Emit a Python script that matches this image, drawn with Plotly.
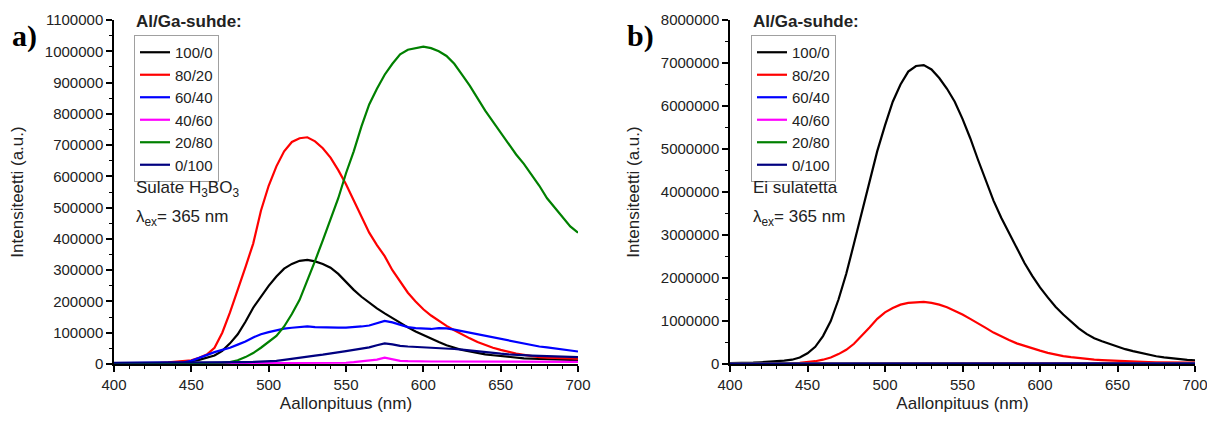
import plotly.graph_objects as go

# Reference image is 1215x421; the page body adds an 8 px margin, so the figure is
# made smaller and all layout positions are shifted by 8 px.
REF_W, REF_H = 1215, 421
OFF = 8
W, H = REF_W - OFF, REF_H - 2 * OFF

# ---------------- data ----------------
wl = list(range(400, 701, 5))
labels = ["100/0", "80/20", "60/40", "40/60", "20/80", "0/100"]
colors = ["#000000", "#ff0000", "#0000ff", "#ff00ff", "#008000", "#000080"]

# Panel a) fused with H3BO3
a_100_0 = [2000, 2000, 2000, 2500, 3000, 3000, 3500, 4000, 5000, 6000, 9000, 13000, 19000, 27000, 42000,
           66000, 95000, 135000, 180000, 215000, 250000, 280000, 305000, 320000, 330000, 333000, 328000,
           320000, 308000, 288000, 262000, 237000, 215000, 195000, 178000, 162000, 147000, 130000, 117000,
           104000, 92000, 80000, 70000, 60000, 52000, 45000, 40000, 35000, 31000, 28000, 25000, 22000,
           20000, 18000, 17000, 16000, 15000, 14000, 13000, 12000, 12000]
a_80_20 = [2000, 2000, 2000, 2000, 3000, 3000, 4000, 5000, 7000, 9000, 12000, 20000, 30000, 52000, 100000,
           165000, 235000, 310000, 385000, 490000, 570000, 632000, 680000, 710000, 722000, 725000, 712000,
           690000, 660000, 620000, 575000, 525000, 470000, 420000, 380000, 345000, 300000, 262000, 228000,
           200000, 175000, 155000, 138000, 122000, 108000, 94000, 82000, 70000, 60000, 52000, 45000, 38000,
           33000, 29000, 25000, 22000, 20000, 19000, 18000, 17000, 17000]
a_60_40 = [3000, 3000, 3000, 3000, 3000, 3000, 3000, 3500, 4000, 5000, 10000, 20000, 30000, 38000, 45000,
           52000, 62000, 72000, 85000, 95000, 102000, 108000, 113000, 116000, 118000, 120000, 118000, 117000,
           115000, 116000, 116000, 117000, 120000, 123000, 130000, 138000, 133000, 125000, 118000, 115000,
           113000, 112000, 115000, 114000, 110000, 105000, 100000, 95000, 90000, 85000, 80000, 75000, 70000,
           65000, 60000, 56000, 53000, 50000, 45000, 42000, 40000]
a_40_60 = [2000, 2000, 2000, 2000, 2000, 2000, 2000, 2000, 2000, 2000, 2000, 2000, 2000, 2000, 2000,
           2000, 2000, 2000, 2000, 2000, 2500, 2500, 2500, 2500, 2500, 3000, 3000, 3000, 3000, 3000, 4000,
           6000, 8000, 10000, 14000, 20000, 15000, 10000, 9000, 8000, 8000, 8000, 8000, 8000, 8000, 8000,
           8000, 8000, 7500, 7500, 7500, 7500, 7000, 7000, 7000, 7000, 7000, 7000, 7000, 7000, 7000]
a_20_80 = [2000, 2000, 2000, 2000, 2000, 2000, 2000, 2000, 2000, 2000, 2500, 2500, 3000, 3000, 4000,
           6000, 12000, 22000, 35000, 52000, 70000, 90000, 120000, 160000, 205000, 265000, 330000, 395000,
           460000, 530000, 610000, 680000, 760000, 830000, 880000, 925000, 960000, 990000, 1005000, 1010000,
           1015000, 1010000, 1000000, 985000, 960000, 925000, 890000, 850000, 810000, 775000, 740000, 705000,
           670000, 640000, 605000, 570000, 530000, 500000, 470000, 440000, 420000]
a_0_100 = [4000, 4000, 4000, 4000, 4000, 4000, 4500, 4500, 4500, 5000, 5000, 5000, 5000, 5500, 5500,
           6000, 6000, 6000, 6500, 7000, 8000, 10000, 13000, 17000, 21000, 24000, 27000, 30000, 33000, 37000,
           41000, 45000, 49000, 53000, 60000, 66000, 63000, 58000, 56000, 55000, 54000, 53000, 51000, 50000,
           48000, 46000, 43000, 41000, 39000, 36000, 33000, 31000, 29000, 28000, 27000, 26000, 25000, 24000,
           23000, 23000, 22000]

# Panel b) not fused
b_100_0 = [20000, 20000, 25000, 30000, 40000, 50000, 60000, 80000, 100000, 150000, 250000, 400000, 650000,
           1000000, 1500000, 2100000, 2800000, 3500000, 4250000, 4950000, 5550000, 6100000, 6500000, 6800000,
           6930000, 6950000, 6850000, 6650000, 6400000, 6100000, 5700000, 5250000, 4750000, 4250000, 3800000,
           3400000, 3050000, 2700000, 2350000, 2050000, 1780000, 1550000, 1330000, 1150000, 980000, 830000,
           700000, 600000, 530000, 465000, 400000, 345000, 300000, 255000, 215000, 180000, 155000, 130000,
           110000, 95000, 85000]
b_80_20 = [5000, 5000, 5000, 6000, 7000, 8000, 9000, 11000, 15000, 25000, 40000, 65000, 100000, 150000,
           230000, 330000, 470000, 650000, 850000, 1050000, 1200000, 1300000, 1380000, 1420000, 1440000,
           1445000, 1420000, 1380000, 1320000, 1240000, 1150000, 1050000, 950000, 840000, 730000, 640000,
           560000, 480000, 420000, 360000, 310000, 260000, 220000, 185000, 160000, 135000, 115000, 100000,
           90000, 80000, 70000, 62000, 55000, 50000, 45000, 40000, 38000, 35000, 33000, 30000, 30000]
wl_flat = [400, 450, 500, 525, 550, 600, 650, 700]
b_60_40 = [10000, 12000, 20000, 25000, 22000, 18000, 15000, 14000]
b_40_60 = [10000, 12000, 25000, 30000, 28000, 20000, 15000, 14000]
b_20_80 = [8000, 9000, 12000, 15000, 15000, 14000, 12000, 10000]
b_0_100 = [6000, 7000, 9000, 10000, 10000, 9000, 8000, 7000]

x_ticks = [400, 450, 500, 550, 600, 650, 700]

# ---------------- figure ----------------
FONT = "Liberation Sans, Arial, sans-serif"


def px_x(p):
    return (p - OFF) / W


def px_y(p):
    return 1 - (p - OFF) / H


fig = go.Figure()

series_a = [a_100_0, a_80_20, a_60_40, a_40_60, a_20_80, a_0_100]
for lab, col, ys in zip(labels, colors, series_a):
    fig.add_trace(go.Scatter(x=wl, y=ys, name=lab, mode="lines",
                             line=dict(color=col, width=2.2),
                             xaxis="x", yaxis="y", legend="legend"))

series_b = [(wl, b_100_0), (wl, b_80_20), (wl_flat, b_60_40), (wl_flat, b_40_60),
            (wl_flat, b_20_80), (wl_flat, b_0_100)]
for lab, col, (xs, ys) in zip(labels, colors, series_b):
    fig.add_trace(go.Scatter(x=xs, y=ys, name=lab, mode="lines",
                             line=dict(color=col, width=2.2),
                             xaxis="x2", yaxis="y2", legend="legend2"))

axis_common = dict(showline=True, linecolor="black", linewidth=1.5,
                   ticks="outside", ticklen=6, tickwidth=1.5, tickcolor="black",
                   showgrid=False, zeroline=False, automargin=False,
                   ticklabeloverflow="allow",
                   tickfont=dict(family=FONT, size=15, color="#222"))

ydom = [px_y(364), px_y(20)]
title_font = dict(family=FONT, size=17, color="#222")

fig.update_layout(
    width=W, height=H,
    margin=dict(l=0, r=0, t=0, b=0, autoexpand=False),
    paper_bgcolor="white", plot_bgcolor="white",
    showlegend=True,
    xaxis=dict(domain=[px_x(114), px_x(578)], range=[400, 700], tickvals=x_ticks,
               minor=dict(ticks="outside", ticklen=3, dtick=10, tickcolor="black", tickwidth=1.2),
               title=dict(text="Aallonpituus (nm)", font=title_font, standoff=11),
               anchor="y", **axis_common),
    yaxis=dict(domain=ydom, range=[0, 1100000], dtick=100000, tickformat="d",
               minor=dict(ticks="outside", ticklen=3, dtick=50000, tickcolor="black", tickwidth=1.2),
               title=dict(text="Intensiteetti (a.u.)", font=title_font, standoff=17),
               anchor="x", **axis_common),
    xaxis2=dict(domain=[px_x(730), px_x(1195)], range=[400, 700], tickvals=x_ticks,
                minor=dict(ticks="outside", ticklen=3, dtick=10, tickcolor="black", tickwidth=1.2),
                title=dict(text="Aallonpituus (nm)", font=title_font, standoff=11),
                anchor="y2", **axis_common),
    yaxis2=dict(domain=ydom, range=[0, 8000000], dtick=1000000, tickformat="d",
                minor=dict(ticks="outside", ticklen=3, dtick=500000, tickcolor="black", tickwidth=1.2),
                title=dict(text="Intensiteetti (a.u.)", font=title_font, standoff=17),
                anchor="x2", **axis_common),
    legend=dict(x=px_x(134), y=px_y(35), xanchor="left", yanchor="top",
                bordercolor="#a0a0a0", borderwidth=1, bgcolor="rgba(255,255,255,0)",
                font=dict(family=FONT, size=15, color="#222"), tracegroupgap=0,
                itemclick=False),
    legend2=dict(x=px_x(751), y=px_y(35), xanchor="left", yanchor="top",
                 bordercolor="#a0a0a0", borderwidth=1, bgcolor="rgba(255,255,255,0)",
                 font=dict(family=FONT, size=15, color="#222"), tracegroupgap=0,
                 itemclick=False),
)

ann_font = dict(family=FONT, size=17, color="#222")
annotations = [
    dict(text="<b>a)</b>", x=px_x(10), y=px_y(36), xanchor="left", yanchor="middle",
         font=dict(family="Liberation Serif, Times New Roman, serif", size=30, color="black")),
    dict(text="<b>b)</b>", x=px_x(625), y=px_y(36), xanchor="left", yanchor="middle",
         font=dict(family="Liberation Serif, Times New Roman, serif", size=30, color="black")),
    dict(text="<b>Al/Ga-suhde:</b>", x=px_x(134), y=px_y(22), xanchor="left", yanchor="middle", font=ann_font),
    dict(text="<b>Al/Ga-suhde:</b>", x=px_x(751), y=px_y(22), xanchor="left", yanchor="middle", font=ann_font),
    dict(text="Sulate H<sub>3</sub>BO<sub>3</sub>", x=px_x(134), y=px_y(189), xanchor="left", yanchor="middle", font=ann_font),
    dict(text="λ<sub>ex</sub>= 365 nm", x=px_x(134), y=px_y(218), xanchor="left", yanchor="middle", font=ann_font),
    dict(text="Ei sulatetta", x=px_x(751), y=px_y(187), xanchor="left", yanchor="middle", font=ann_font),
    dict(text="λ<sub>ex</sub>= 365 nm", x=px_x(751), y=px_y(218), xanchor="left", yanchor="middle", font=ann_font),
]
for a in annotations:
    a.update(xref="paper", yref="paper", showarrow=False)
fig.update_layout(annotations=annotations)

fig.write_html("out.html")
